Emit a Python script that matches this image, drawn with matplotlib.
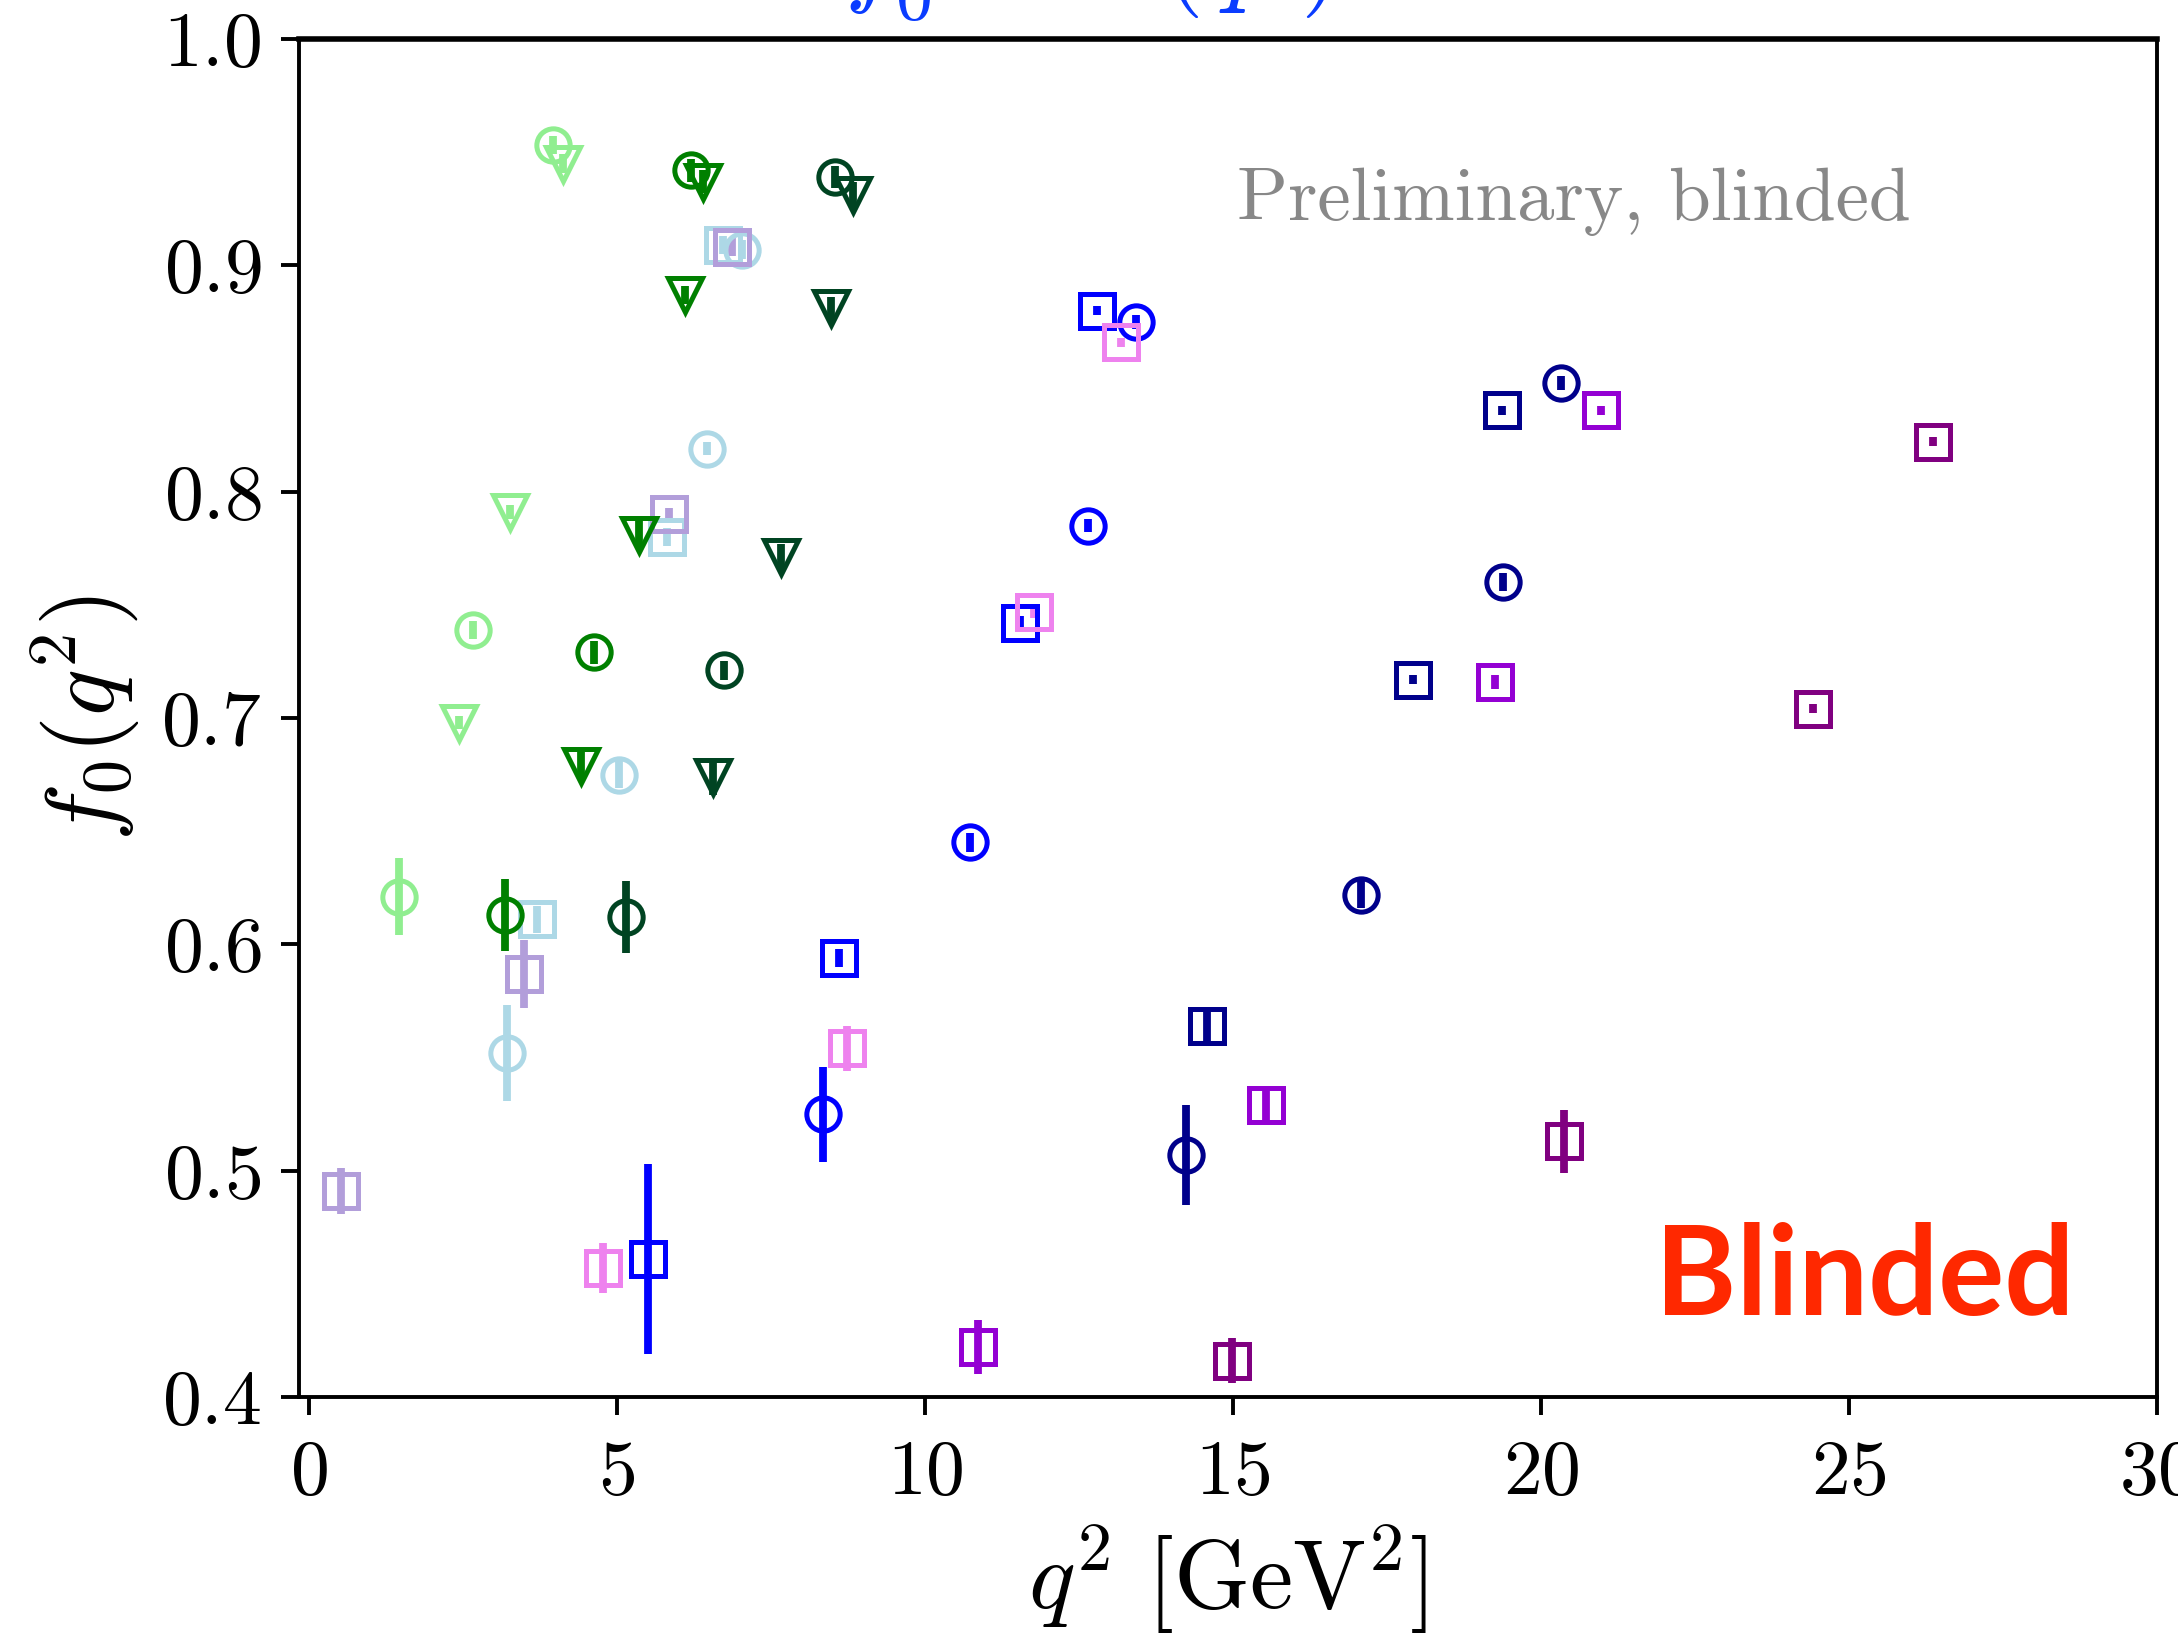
import numpy as np
import matplotlib
matplotlib.use("Agg")
import matplotlib.pyplot as plt

plt.rcParams['mathtext.fontset'] = 'cm'
plt.rcParams['font.family'] = 'serif'
plt.rcParams['font.serif'] = ['cmr10']
plt.rcParams['axes.unicode_minus'] = False
plt.rcParams['axes.formatter.use_mathtext'] = True

# --- data (q^2 in GeV^2, f0, error) ---
lgreen_o_x = [3.97, 2.66, 1.46]
lgreen_o_y = [0.953, 0.739, 0.621]
lgreen_o_e = [0.004, 0.004, 0.017]
lgreen_v_x = [4.12, 3.27, 2.43]
lgreen_v_y = [0.945, 0.791, 0.698]
lgreen_v_e = [0.004, 0.003, 0.003]

green_o_x = [6.20, 4.62, 3.18]
green_o_y = [0.942, 0.729, 0.613]
green_o_e = [0.005, 0.005, 0.016]
green_v_x = [6.40, 6.11, 5.36, 4.42]
green_v_y = [0.937, 0.887, 0.781, 0.679]
green_v_e = [0.005, 0.004, 0.006, 0.006]

dgreen_o_x = [8.54, 6.74, 5.14]
dgreen_o_y = [0.939, 0.721, 0.612]
dgreen_o_e = [0.005, 0.004, 0.016]
dgreen_v_x = [8.83, 8.47, 7.66, 6.56]
dgreen_v_y = [0.931, 0.881, 0.771, 0.674]
dgreen_v_e = [0.006, 0.005, 0.006, 0.008]

lblue_o_x = [7.03, 6.47, 5.03, 3.22]
lblue_o_y = [0.907, 0.819, 0.675, 0.552]
lblue_o_e = [0.004, 0.003, 0.006, 0.021]
lblue_s_x = [6.72, 5.82, 3.70]
lblue_s_y = [0.909, 0.780, 0.611]
lblue_s_e = [0.004, 0.004, 0.006]

lav_s_x = [6.87, 5.84, 3.49, 0.52]
lav_s_y = [0.908, 0.790, 0.587, 0.491]
lav_s_e = [0.004, 0.003, 0.015, 0.010]

blue_o_x = [13.43, 12.64, 10.73, 8.34]
blue_o_y = [0.875, 0.785, 0.645, 0.525]
blue_o_e = [0.003, 0.003, 0.004, 0.021]
blue_s_x = [12.80, 11.54, 8.61, 5.50]
blue_s_y = [0.880, 0.742, 0.594, 0.461]
blue_s_e = [0.002, 0.003, 0.004, 0.042]

violet_s_x = [13.18, 11.77, 8.74, 4.78]
violet_s_y = [0.866, 0.747, 0.554, 0.457]
violet_s_e = [0.002, 0.003, 0.010, 0.011]

navy_o_x = [20.33, 19.38, 17.08, 14.24]
navy_o_y = [0.848, 0.760, 0.622, 0.507]
navy_o_e = [0.003, 0.004, 0.006, 0.022]
navy_s_x = [19.36, 17.92, 14.58]
navy_s_y = [0.836, 0.717, 0.564]
navy_s_e = [0.002, 0.002, 0.007]

dviolet_s_x = [20.98, 19.25, 15.53, 10.86]
dviolet_s_y = [0.836, 0.716, 0.529, 0.422]
dviolet_s_e = [0.002, 0.003, 0.008, 0.012]

purple_s_x = [26.37, 24.41, 20.37, 14.99]
purple_s_y = [0.822, 0.704, 0.513, 0.416]
purple_s_e = [0.002, 0.002, 0.014, 0.010]

series = [
    (lblue_o_x, lblue_o_y, lblue_o_e, 'o', '#add8e6'),
    (lblue_s_x, lblue_s_y, lblue_s_e, 's', '#add8e6'),
    (lav_s_x, lav_s_y, lav_s_e, 's', '#b29eda'),
    (lgreen_o_x, lgreen_o_y, lgreen_o_e, 'o', '#90ee90'),
    (lgreen_v_x, lgreen_v_y, lgreen_v_e, 'v', '#90ee90'),
    (green_o_x, green_o_y, green_o_e, 'o', '#008000'),
    (green_v_x, green_v_y, green_v_e, 'v', '#008000'),
    (dgreen_o_x, dgreen_o_y, dgreen_o_e, 'o', '#004422'),
    (dgreen_v_x, dgreen_v_y, dgreen_v_e, 'v', '#004422'),
    (blue_o_x, blue_o_y, blue_o_e, 'o', '#0000ff'),
    (blue_s_x, blue_s_y, blue_s_e, 's', '#0000ff'),
    (violet_s_x, violet_s_y, violet_s_e, 's', '#ee82ee'),
    (navy_o_x, navy_o_y, navy_o_e, 'o', '#00008b'),
    (navy_s_x, navy_s_y, navy_s_e, 's', '#00008b'),
    (dviolet_s_x, dviolet_s_y, dviolet_s_e, 's', '#9400d3'),
    (purple_s_x, purple_s_y, purple_s_e, 's', '#800080'),
]

fig = plt.figure(figsize=(10.89, 8.205), dpi=200)
ax = fig.add_axes([0.1373, 0.1487, 0.8531, 0.8275])

for x, y, e, mk, col in series:
    ax.errorbar(x, y, yerr=e, fmt=mk, color=col, mfc='none', mec=col,
                ms=12, mew=1.8, elinewidth=2.8, capsize=0)

ax.set_xlim(-0.16, 30)
ax.set_ylim(0.4, 1.0)
ax.set_xticks([0, 5, 10, 15, 20, 25, 30])
ax.set_yticks([0.4, 0.5, 0.6, 0.7, 0.8, 0.9, 1.0])
ax.tick_params(direction='out', length=6.5, width=1.4, labelsize=28)
ax.tick_params(axis='y', pad=7)
ax.tick_params(axis='x', pad=9)
for s in ax.spines.values():
    s.set_linewidth(1.4)
ax.spines['top'].set_linewidth(2.0)

ax.set_xlabel(r"$q^2\ [\mathrm{GeV}^2]$", fontsize=35, labelpad=5)
ax.set_ylabel(r"$f_0(q^2)$", fontsize=35, labelpad=7)

ax.text(0.505, 0.8667, "Preliminary, blinded", transform=ax.transAxes,
        fontsize=27, color='#888888', ha='left', va='baseline')
ax.text(0.730, 0.0604, "Blinded", transform=ax.transAxes,
        fontsize=44.5, color='#ff2800', fontweight='bold', family='Lato',
        ha='left', va='baseline')

# title sits mostly above the (cropped) figure edge
fig.text(0.500, 1.004, r"$f_0^{B_s\to K}(q^2)$", fontsize=38,
         color='#0a3cff', ha='center', va='baseline')

fig.savefig("out.png", dpi=200)
